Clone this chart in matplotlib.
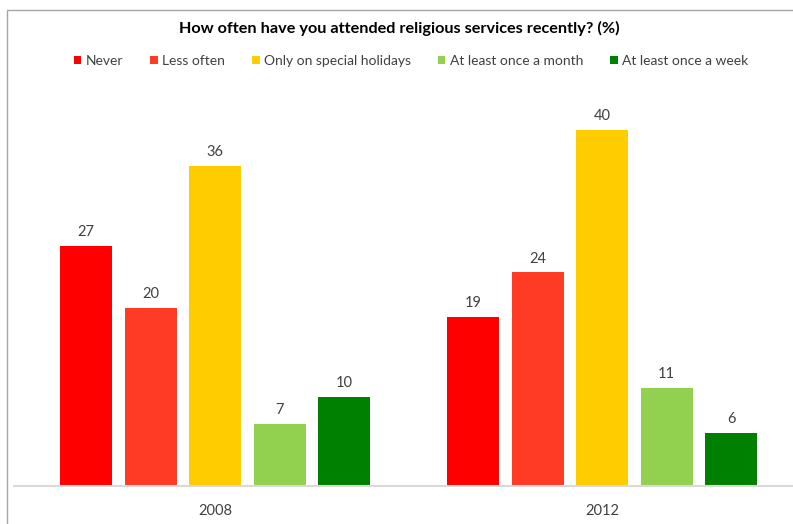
import matplotlib
matplotlib.use("Agg")
import matplotlib.pyplot as plt
from matplotlib.patches import Rectangle, Patch
import numpy as np

years = ["2008", "2012"]
series = ["Never", "Less often", "Only on special holidays", "At least once a month", "At least once a week"]
values = {
    "Never": [27, 19],
    "Less often": [20, 24],
    "Only on special holidays": [36, 40],
    "At least once a month": [7, 11],
    "At least once a week": [10, 6],
}
colors = ["#FF0000", "#FF3B26", "#FFCC00", "#92D050", "#008000"]

W, H = 793, 524
plt.rcParams['font.family'] = ['Lato', 'DejaVu Sans']
fig = plt.figure(figsize=(W / 100, H / 100), dpi=100)

# figure border
fig.patches.append(Rectangle((7 / W, -0.1), 1.2, (H - 10) / H + 0.1, transform=fig.transFigure,
                             fill=False, edgecolor="#A6A6A6", linewidth=1.0))

# axes placement in pixels
px_unit = 8.9
ymax = 42
ax_left, ax_right, ax_bottom = 14, 795, 486
ax_top = ax_bottom - ymax * px_unit
ax = fig.add_axes([ax_left / W, (H - ax_bottom) / H, (ax_right - ax_left) / W, (ax_bottom - ax_top) / H])

x = np.arange(len(years))
cat_px = 387
bar_w = 52 / cat_px
step = 64.5 / cat_px
for i, (s, c) in enumerate(zip(series, colors)):
    offs = (i - 2) * step
    bars = ax.bar(x + offs, values[s], width=bar_w, color=c, label=s, zorder=2)
    for b, v in zip(bars, values[s]):
        ax.text(b.get_x() + b.get_width() / 2, v + 0.75, f"{v}", ha="center", va="bottom",
                fontsize=10.5, color="#404040")

left_data = 0 - (215 - ax_left) / cat_px
ax.set_xlim(left_data, left_data + (ax_right - ax_left) / cat_px)
ax.set_ylim(0, ymax)
ax.set_xticks(x)
ax.set_xticklabels(years, fontsize=10.5, color="#404040")
ax.tick_params(axis="x", length=0, pad=13)
ax.set_yticks([])
for sp in ["top", "right", "left"]:
    ax.spines[sp].set_visible(False)
ax.spines["bottom"].set_color("#D9D9D9")
ax.spines["bottom"].set_linewidth(1.5)

fig.text(399 / W, 1 - 28 / H, "How often have you attended religious services recently? (%)",
         ha="center", va="center", fontsize=11.7, fontweight="bold", color="#000000")

handles = [Patch(facecolor=c, edgecolor="none") for c in colors]
leg = fig.legend(handles, series, loc="center", bbox_to_anchor=(411 / W, 1 - 61 / H), ncol=5,
                 frameon=False, fontsize=10, handlelength=0.55, handleheight=0.55,
                 handletextpad=0.3, columnspacing=1.95)
for t in leg.get_texts():
    t.set_color("#404040")

fig.savefig("out.png", dpi=100)
